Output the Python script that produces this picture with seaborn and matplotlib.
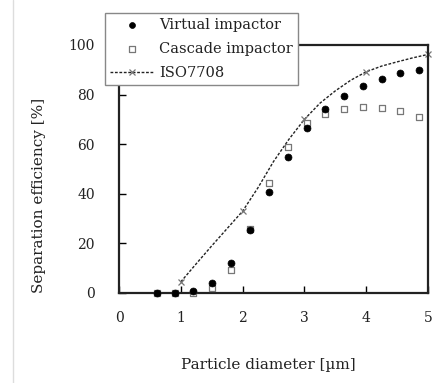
import matplotlib
matplotlib.use("Agg")
import matplotlib.pyplot as plt
import seaborn as sns
import pandas as pd
from matplotlib.lines import Line2D

# ---- data ----
vi_x = [0.61, 0.91, 1.20, 1.50, 1.81, 2.12, 2.42, 2.73, 3.04, 3.34, 3.64, 3.95, 4.25, 4.55, 4.86]
vi_y = [0.0, 0.0, 1.0, 3.9, 12.0, 25.4, 40.7, 55.0, 66.4, 74.0, 79.6, 83.6, 86.4, 88.6, 89.8]

ci_x = [0.61, 0.91, 1.20, 1.50, 1.81, 2.12, 2.42, 2.73, 3.04, 3.34, 3.64, 3.95, 4.25, 4.55, 4.86]
ci_y = [0.0, 0.0, 0.0, 1.9, 9.3, 26.0, 44.5, 58.9, 68.4, 72.0, 74.3, 75.0, 74.6, 73.3, 70.8]

iso_x = [1.0, 1.25, 1.5, 1.75, 2.0, 2.25, 2.5, 2.75, 3.0, 3.25, 3.5, 3.75, 4.0, 4.25, 4.5, 4.75, 5.0]
iso_y = [4.5, 11.8, 19.0, 26.0, 33.0, 42.5, 53.0, 62.0, 70.0, 76.5, 81.5, 85.8, 89.2, 91.5, 93.2, 94.8, 96.2]
iso_marker_x = [1.0, 2.0, 3.0, 4.0, 5.0]

x_ticks = [0, 1, 2, 3, 4, 5]
y_ticks = [0, 20, 40, 60, 80, 100]

labels = ["Virtual impactor", "Cascade impactor", "ISO7708"]
x_label = "Particle diameter [µm]"
y_label = "Separation efficiency [%]"

sns.set_theme(style="white")
plt.rcParams["font.family"] = ["DejaVu Serif", "DejaVu Sans"]

fig = plt.figure(figsize=(4.45, 3.83), dpi=100)
ax = fig.add_axes([119/445, 1-293/383, (428-119)/445, (293-45)/383])

df_iso = pd.DataFrame({"x": iso_x, "y": iso_y})
mk = [i for i, v in enumerate(iso_x) if v in iso_marker_x]
sns.lineplot(data=df_iso, x="x", y="y", ax=ax, color="#222222", linestyle=(0, (2.0, 1.2)),
             linewidth=1.0, marker="x", markersize=5, markeredgecolor="#777777",
             markeredgewidth=0.9, markevery=mk, label=labels[2], clip_on=False, zorder=2)

df_ci = pd.DataFrame({"x": ci_x, "y": ci_y})
sns.scatterplot(data=df_ci, x="x", y="y", ax=ax, marker="s", s=20, facecolor="white",
                edgecolor="#777777", linewidth=0.9, label=labels[1], clip_on=False, zorder=3)

df_vi = pd.DataFrame({"x": vi_x, "y": vi_y})
sns.scatterplot(data=df_vi, x="x", y="y", ax=ax, marker="o", s=25, color="black",
                edgecolor="black", linewidth=0.5, label=labels[0], clip_on=False, zorder=4)

ax.set_xlim(0, 5)
ax.set_ylim(0, 100)
ax.set_xticks(x_ticks)
ax.set_yticks(y_ticks)
ax.set_xticklabels([str(t) for t in x_ticks])
ax.set_yticklabels([str(t) for t in y_ticks])
ax.tick_params(axis="both", direction="in", length=5, width=1.0, colors="black",
               labelsize=10, labelcolor="#222222")
ax.tick_params(axis="x", pad=13, bottom=True)
ax.tick_params(axis="y", pad=17.5, left=True)
for sp in ax.spines.values():
    sp.set_visible(True)
    sp.set_color("#222222")
    sp.set_linewidth(1.6)

ax.set_xlabel(x_label, fontsize=11, color="#222222")
ax.set_ylabel(y_label, fontsize=11, color="#222222")
ax.xaxis.set_label_coords(0.484, -0.262)
ax.yaxis.set_label_coords(-0.237, 0.395)

h, l = ax.get_legend_handles_labels()
order = [l.index(s) for s in labels]
leg = ax.legend([h[i] for i in order], [l[i] for i in order],
                loc="upper left", bbox_to_anchor=(105/445, 1-13/383), bbox_transform=fig.transFigure,
                borderaxespad=0, frameon=True, fancybox=False, edgecolor="#888888",
                fontsize=10.5, handlelength=3.0, handletextpad=0.35, labelspacing=0.68,
                borderpad=0.35, framealpha=1, markerscale=0.85)
leg.get_frame().set_linewidth(1.0)
for t in leg.get_texts():
    t.set_color("#222222")

fig.add_artist(Line2D([13/445, 13/445], [0, 1], transform=fig.transFigure, color="#dddddd", lw=1))

fig.savefig("out.png", dpi=100)
